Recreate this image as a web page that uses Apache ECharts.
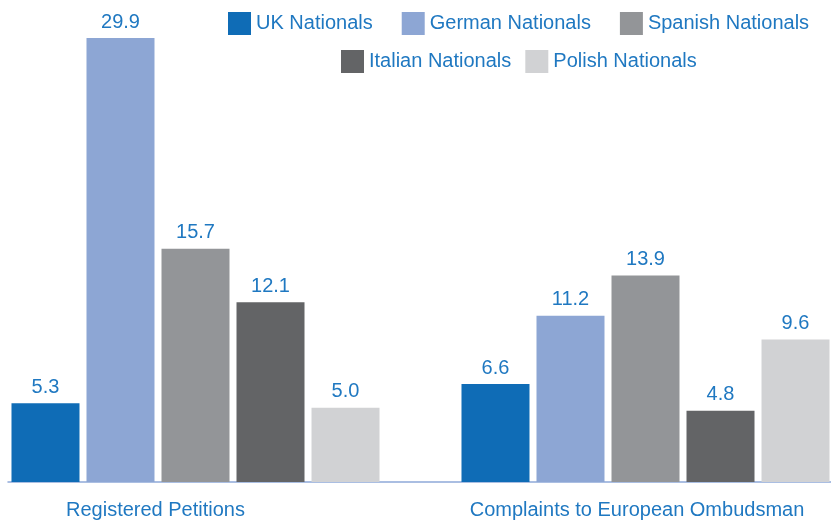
<!DOCTYPE html>
<html>
<head>
<meta charset="utf-8">
<script src="https://cdn.jsdelivr.net/npm/echarts@6/dist/echarts.min.js"></script>
<style>html,body{margin:0;padding:0;background:#fff}#c{width:831px;height:521px}</style>
</head>
<body>
<div id="c"></div>
<script>
var categories = ['Registered Petitions', 'Complaints to European Ombudsman'];
var seriesNames = ['UK Nationals', 'German Nationals', 'Spanish Nationals', 'Italian Nationals', 'Polish Nationals'];
var ukValues = [5.3, 6.6];
var germanValues = [29.9, 11.2];
var spanishValues = [15.7, 13.9];
var italianValues = [12.1, 4.8];
var polishValues = [5.0, 9.6];

var colors = ['#0f6cb6', '#8da6d4', '#939598', '#636466', '#d1d2d4'];
var textBlue = '#1f78c1';
var font = 'Liberation Sans, Arial, sans-serif';
var allValues = [ukValues, germanValues, spanishValues, italianValues, polishValues];

var chart = echarts.init(document.getElementById('c'), null, {renderer: 'canvas'});
var series = seriesNames.map(function (n, i) {
  return {
    name: n, type: 'bar', data: allValues[i],
    xAxisIndex: 0, yAxisIndex: 0, clip: false,
    barWidth: 68, barGap: '10.3%',
    itemStyle: {color: colors[i]},
    label: {show: true, position: 'top', distance: 6, color: textBlue, fontSize: 20, fontFamily: font,
      formatter: function (p) { return p.value.toFixed(1); }}
  };
});
chart.setOption({
  animation: false,
  color: colors,
  legend: [
    {data: seriesNames.slice(0, 3), left: 228, top: 12, padding: 0, itemWidth: 23, itemHeight: 23, itemGap: 29,
     icon: 'rect', textStyle: {color: textBlue, fontSize: 20, fontFamily: font, padding: [5, 0, 0, 0]}},
    {data: seriesNames.slice(3), left: 341, top: 50, padding: 0, itemWidth: 23, itemHeight: 23, itemGap: 14,
     icon: 'rect', textStyle: {color: textBlue, fontSize: 20, fontFamily: font}}
  ],
  grid: [
    {left: 195.5, right: 185.5, top: 36.5, bottom: 39},
    {left: 8, right: 0, top: 36.5, bottom: 39}
  ],
  xAxis: [
    {type: 'category', gridIndex: 0, data: categories, boundaryGap: false,
     axisLine: {show: false}, axisTick: {show: false}, splitLine: {show: false},
     axisLabel: {margin: 18, fontSize: 20, color: textBlue, fontFamily: font, interval: 0,
       formatter: function (v, i) { return i === 0 ? '{a|' + v + '}' : '{b|' + v + '}'; },
       rich: {
         a: {fontSize: 20, color: textBlue, fontFamily: font, padding: [0, 80, 0, 0]},
         b: {fontSize: 20, color: textBlue, fontFamily: font, padding: [0, 17, 0, 0]}
       }}},
    {type: 'category', gridIndex: 1, data: categories,
     axisLine: {show: true, lineStyle: {color: '#8fa9d9', width: 1.5}},
     axisTick: {show: false}, axisLabel: {show: false}}
  ],
  yAxis: [
    {type: 'value', gridIndex: 0, min: 0, max: 30, show: false, splitLine: {show: false}},
    {type: 'value', gridIndex: 1, min: 0, max: 30, show: false, splitLine: {show: false}}
  ],
  series: series
});
</script>
</body>
</html>
